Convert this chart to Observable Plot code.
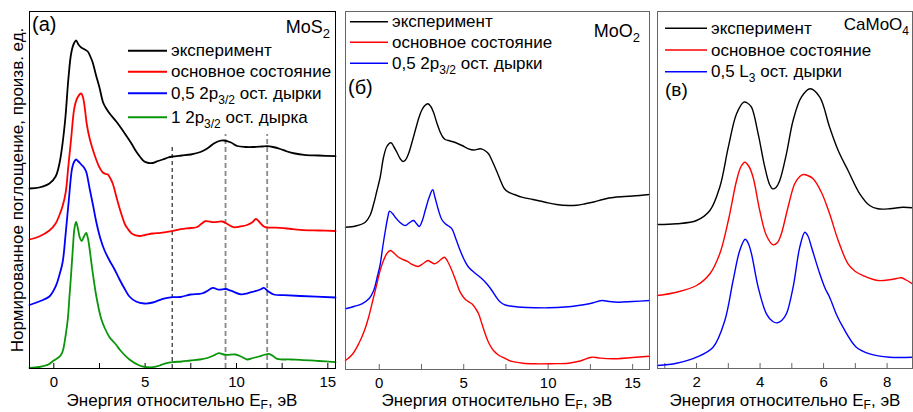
<!DOCTYPE html>
<html><head><meta charset="utf-8">
<script src="https://cdn.jsdelivr.net/npm/d3@7"></script>
<script src="https://cdn.jsdelivr.net/npm/@observablehq/plot@0.6"></script>
<style>
body{margin:0;background:#fff;}
#chart{position:relative;width:913px;height:412px;}
#chart svg{position:absolute;top:0;}
</style></head><body><div id="chart"></div>
<script>
const FONT = '"Liberation Sans", Arial, Helvetica, sans-serif';

// ---------- Panel (a) MoS2 : [energy eV, normalized absorption (arb. units, offset)] ----------
const mos2Experiment = [[-1.33,180],[-0.8,181],[-0.24,185],[0.1,192],[0.31,205],[0.5,228],[0.64,252],[0.8,290],[0.95,315],[1.1,325],[1.22,328],[1.35,324],[1.5,321],[1.7,319],[1.86,317],[2.0,312],[2.13,306],[2.3,294],[2.5,281],[2.7,266],[2.87,260],[3.1,254],[3.42,247],[3.7,240],[3.96,233],[4.25,225],[4.51,217],[4.75,211],[4.96,207],[5.2,205.5],[5.42,205.5],[5.7,207.5],[5.97,209],[6.25,211],[6.5,212],[7.0,213],[7.5,214],[8.03,216.5],[8.4,220],[8.76,225],[9.05,227.5],[9.3,228],[9.7,226],[10.04,222.5],[10.5,221.5],[10.95,221.5],[11.4,222],[11.68,222.3],[12.0,221.5],[12.4,219.5],[12.77,217],[13.2,215],[13.7,213.7],[14.5,213],[15.42,212.3]];
const mos2Ground = [[-1.33,129],[-0.8,132],[-0.24,138],[0.1,145],[0.3,153],[0.49,163],[0.65,176],[0.8,203],[0.95,230],[1.13,261],[1.3,271],[1.5,275],[1.6,271],[1.7,260],[1.8,245],[1.95,231],[2.1,221],[2.32,209],[2.5,201],[2.68,196],[2.85,194.5],[2.96,194],[3.1,190],[3.23,184.7],[3.45,170],[3.69,155],[3.9,144],[4.05,139.7],[4.3,134.5],[4.69,132.5],[5.0,133.5],[5.42,135],[5.84,135.7],[6.48,137.3],[6.94,139.3],[7.5,140.5],[7.85,141.5],[8.1,145],[8.3,147.3],[8.76,146.3],[9.22,147],[9.5,144.5],[9.85,141.3],[10.2,142],[10.58,143.5],[10.85,146],[11.07,149.5],[11.3,145.5],[11.5,142],[11.68,141],[12.4,140.7],[13.0,139.5],[13.5,138.7],[14.5,138],[15.42,137.5]];
const mos2HalfHole = [[-1.33,63.5],[-0.8,67],[-0.24,72],[0.1,82],[0.3,93],[0.49,107],[0.64,133],[0.82,168],[1.0,200],[1.12,207],[1.22,209],[1.35,207],[1.5,204],[1.65,201],[1.77,197],[1.95,181],[2.15,163],[2.32,147],[2.55,130],[2.78,118],[3.05,108],[3.3,100],[3.6,89],[3.9,79],[4.14,72],[4.5,67],[4.96,65],[5.42,66],[5.97,69.7],[6.5,71.3],[6.94,71.5],[7.48,74],[8.1,75],[8.4,77.5],[8.7,80.7],[9.03,78.8],[9.4,79.5],[9.7,77.8],[10.25,74.2],[10.6,75.2],[10.95,77],[11.3,79],[11.5,80.7],[11.75,77],[12.04,74],[12.6,73.3],[13.5,72.5],[15.42,71]];
const mos2FullHole = [[-1.33,0.5],[-0.8,1.5],[-0.3,4],[0,8],[0.25,11],[0.37,13],[0.5,18],[0.64,32],[0.77,50],[0.85,70],[0.95,95],[1.05,122],[1.13,140],[1.22,146.5],[1.32,140],[1.42,131],[1.53,127.5],[1.65,132],[1.77,135.5],[1.87,130],[1.95,121],[2.1,100],[2.32,73],[2.59,50],[2.8,40],[3.05,31.3],[3.4,24],[3.65,18],[4.14,9],[4.69,3],[5.0,1.5],[5.42,1.3],[5.8,3],[6.03,4.7],[6.48,6.3],[7.0,7],[7.48,8],[8.0,9],[8.4,10.5],[8.75,13],[9.03,15.3],[9.3,14],[9.5,13.7],[9.95,14],[10.3,11.5],[10.58,9],[10.9,10.5],[11.22,12],[11.5,13.5],[11.77,14.7],[12.0,12.5],[12.23,9.7],[13.0,9],[13.5,8.7],[14.5,7.5],[15.42,6.3]];
const mos2MarkerLines = [6.48, 9.4, 11.68];

// ---------- Panel (б) MoO2 ----------
const moo2Experiment = [[-2,142.3],[-1.4,143.5],[-0.83,147.3],[-0.55,154],[-0.33,165.7],[-0.15,178],[0.05,192],[0.25,212],[0.45,223],[0.69,226.7],[0.87,222.5],[1.05,217],[1.25,210.5],[1.4,208],[1.55,209.5],[1.73,215.7],[1.95,228],[2.13,239],[2.35,252],[2.52,259.5],[2.7,264],[2.88,265.7],[3.05,263],[3.21,257.3],[3.4,247],[3.61,237.3],[3.78,232],[3.9,230],[4.2,228.5],[4.5,227],[4.9,224],[5.28,220.7],[5.6,219.5],[5.98,220.7],[6.2,219.5],[6.47,215.7],[6.7,208],[6.96,198],[7.2,188],[7.4,181],[7.65,177.3],[8.0,175],[8.44,172.3],[9.1,170],[9.82,167.3],[10.5,165],[11.2,164],[11.7,164.3],[12.19,165.7],[12.7,167.5],[13.18,169.7],[13.6,171.5],[13.96,172.3],[15.0,173.5],[16,175]];
const moo2Ground = [[-2,9],[-1.6,15],[-1.22,25.7],[-0.9,38],[-0.63,52.3],[-0.4,68],[-0.14,85.7],[0.05,99],[0.25,109],[0.45,116],[0.65,119],[0.9,116],[1.14,112.3],[1.4,110],[1.64,108.3],[1.95,105],[2.29,103],[2.6,106],[2.88,109],[3.05,107.5],[3.27,105.7],[3.55,108.5],[3.86,112.3],[4.05,108],[4.3,99],[4.55,88],[4.79,77.3],[5.1,70],[5.48,65.7],[5.7,61],[5.88,55.7],[6.07,46],[6.27,35.7],[6.5,26],[6.76,19],[7.1,14],[7.46,11],[7.8,8.3],[8.5,6.3],[9.23,5.7],[10.2,5.8],[11.2,6.3],[11.9,8.5],[12.58,12.3],[13.0,11.5],[13.77,10.7],[15.0,12],[16,13.3]];
const moo2HalfHole = [[-2,60.7],[-1.5,63],[-1.03,65.7],[-0.6,71],[-0.33,79],[-0.1,94],[0.06,105.7],[0.2,122],[0.36,139],[0.5,152],[0.61,158.3],[0.78,156],[0.95,152.3],[1.2,147.5],[1.54,144],[1.8,147],[2.03,149],[2.2,146],[2.37,143],[2.55,149],[2.72,159],[2.95,172],[3.16,179.7],[3.3,172],[3.51,159],[3.7,150],[3.91,145.7],[4.1,143.5],[4.3,140.7],[4.55,130],[4.79,119],[5.05,109],[5.29,102.3],[5.7,96],[6.08,90.7],[6.4,85],[6.67,79],[6.9,73],[7.16,67.5],[7.46,64.5],[8.0,63],[8.44,62.3],[9.2,61.8],[10.02,61.7],[11.0,62.5],[11.79,64],[12.5,66],[13.18,69],[13.6,68],[14.16,67.3],[15.0,68],[16,69]];

// ---------- Panel (в) CaMoO4 ----------
const camoExperiment = [[0.77,144],[1.37,144.7],[2.0,148],[2.42,158],[2.73,181.3],[3.0,221.3],[3.26,254.7],[3.49,266.3],[3.6,265.5],[3.73,261.3],[3.94,234.7],[4.15,201.3],[4.3,184],[4.39,179.7],[4.5,181],[4.62,188],[4.83,214.7],[5.04,248],[5.3,271.3],[5.58,279.7],[5.88,271.3],[6.19,241.3],[6.46,218],[6.77,198],[7.14,174.7],[7.45,163],[7.71,159.7],[8.08,159.7],[8.5,161.3],[8.8,160.7]];
const camoGround = [[0.77,73],[1.37,76.3],[2.0,83],[2.42,94.7],[2.73,114.7],[3.0,148],[3.26,188],[3.4,202],[3.52,206.3],[3.65,202],[3.78,191.3],[3.99,158],[4.2,133],[4.41,123.7],[4.55,126],[4.67,134.7],[4.88,161.3],[5.09,184.7],[5.25,192],[5.36,194],[5.5,193],[5.67,189.7],[5.93,176.3],[6.19,154.7],[6.46,128],[6.77,104.7],[7.0,97],[7.24,93],[7.71,88],[8.08,88.7],[8.3,90],[8.45,90.7],[8.6,88.5],[8.8,84.7]];
const camoHalfHole = [[0.77,3],[1.37,5.3],[2.0,11.3],[2.52,21.3],[2.89,48],[3.15,88],[3.36,118],[3.53,129.3],[3.63,125],[3.73,114.7],[3.94,81.3],[4.2,54.7],[4.4,47],[4.54,45.7],[4.68,48],[4.83,54.7],[5.04,81.3],[5.25,121.3],[5.41,136.3],[5.5,133],[5.62,121.3],[5.88,94.7],[6.05,80],[6.19,71.3],[6.42,53],[6.61,41.3],[7.03,21.3],[7.45,14.7],[8.08,11.3],[8.8,11.3]];

// ---------- ticks ----------
const ticksAB = [0, 5, 10, 15];
const minorAB = [2.5, 7.5, 12.5];
const ticksC = [2, 4, 6, 8];
const minorC = [1, 3, 5, 7];

const xTitle = ["Энергия относительно E", {sub: "F"}, ", эВ"];
const yTitle = "Нормированное поглощение, произв. ед.";

const chart = document.getElementById("chart");

function addText(svg, x, y, parts, {size = 17, anchor = "start", rotate = null, fill = "black", subShift = null} = {}) {
  const t = d3.select(svg).append("text")
    .attr("x", x).attr("y", y)
    .attr("font-size", size).attr("font-family", FONT)
    .attr("text-anchor", anchor).attr("fill", fill);
  if (rotate !== null) t.attr("transform", `rotate(${rotate} ${x} ${y})`);
  const shift = subShift ?? Math.round(size * 0.3);
  let down = false;
  (Array.isArray(parts) ? parts : [parts]).forEach(p => {
    if (typeof p === "string") {
      const s = t.append("tspan").text(p);
      if (down) { s.attr("dy", -shift); down = false; }
    } else {
      t.append("tspan").attr("font-size", Math.round(size * 0.72)).attr("dy", shift).text(p.sub);
      down = true;
    }
  });
  return t;
}

function panel({left, width, marginLeft, marginRight, marginBottom, xDomain, majors, minors, series, strokeWidth, frameStroke, extraMarks = []}) {
  const innerH = 412 - 11 - marginBottom;
  const svg = Plot.plot({
    width, height: 412,
    marginTop: 11, marginBottom, marginLeft, marginRight,
    style: {fontFamily: FONT, fontSize: "15px", color: "black", background: "transparent", overflow: "visible"},
    x: {domain: xDomain},
    y: {domain: [0, innerH], axis: null},
    marks: [
      Plot.tickX([...majors, ...minors], {x: d => d, stroke: frameStroke, insetTop: innerH - 5}),
      ...extraMarks,
      ...series.map(s => Plot.line(s.values, {x: d => d[0], y: d => d[1], stroke: s.color, strokeWidth, curve: "catmull-rom"})),
      Plot.axisX({ticks: majors, tickSize: 0, tickPadding: 8, fontSize: 15, label: null, tickFormat: d => String(d)}),
      Plot.frame({stroke: frameStroke})
    ]
  });
  svg.style.left = left + "px";
  chart.appendChild(svg);
  return svg;
}

function legend(svg, x1, x2, ys, items, strokeWidth) {
  const g = d3.select(svg).append("g");
  items.forEach((it, i) => {
    g.append("line").attr("x1", x1).attr("x2", x2).attr("y1", ys[i]).attr("y2", ys[i])
      .attr("stroke", it.color).attr("stroke-width", strokeWidth);
    addText(svg, x2 + 4, ys[i] + 5.5, it.label, {size: 17});
  });
}

const labExp = "эксперимент";
const labGround = "основное состояние";
const labHalf = ["0,5 2p", {sub: "3/2"}, " ост. дырки"];
const labFull = ["1 2p", {sub: "3/2"}, " ост. дырка"];
const labHalfL3 = ["0,5 L", {sub: "3"}, " ост. дырки"];

// ----- Panel (a) -----
const svgA = panel({
  left: 0, width: 340, marginLeft: 29, marginRight: 5, marginBottom: 44,
  xDomain: [-1.33, 15.42], majors: ticksAB, minors: minorAB, strokeWidth: 1.8, frameStroke: "black",
  series: [
    {values: mos2Experiment, color: "#000000"},
    {values: mos2Ground, color: "#ff0000"},
    {values: mos2HalfHole, color: "#0000ff"},
    {values: mos2FullHole, color: "#0a960a"}
  ],
  extraMarks: [
    Plot.ruleX([mos2MarkerLines[0]], {x: d => d, y1: 0, y2: 221, stroke: "black", strokeWidth: 1, strokeDasharray: "4,3"}),
    Plot.ruleX(mos2MarkerLines.slice(1), {x: d => d, y1: 0, y2: 234, stroke: "#888", strokeWidth: 1.8, strokeDasharray: "5,3"})
  ]
});
legend(svgA, 128, 167, [50.7, 71.7, 93.3, 117.3], [
  {label: labExp, color: "#000"}, {label: labGround, color: "#ff0000"},
  {label: labHalf, color: "#0000ff"}, {label: labFull, color: "#0a960a"}], 2);
addText(svgA, 32, 31, "(a)", {size: 20});
addText(svgA, 330, 33, ["MoS", {sub: "2"}], {size: 18, anchor: "end"});
addText(svgA, 182, 406, xTitle, {size: 17, anchor: "middle", subShift: 3});
addText(svgA, 23, 190, yTitle, {size: 17, anchor: "middle", rotate: -90});

// ----- Panel (б) -----
const svgB = panel({
  left: 340, width: 312, marginLeft: 5, marginRight: 3, marginBottom: 43,
  xDomain: [-2, 16], majors: ticksAB, minors: minorAB, strokeWidth: 1.4, frameStroke: "#666",
  series: [
    {values: moo2Experiment, color: "#000000"},
    {values: moo2Ground, color: "#ff0000"},
    {values: moo2HalfHole, color: "#0000ff"}
  ]
});
legend(svgB, 10, 48, [21.7, 42.3, 63.3], [
  {label: labExp, color: "#000"}, {label: labGround, color: "#ff0000"},
  {label: labHalf, color: "#0000ff"}], 1.5);
addText(svgB, 8, 94, "(б)", {size: 20});
addText(svgB, 300, 37, ["MoO", {sub: "2"}], {size: 18, anchor: "end"});
addText(svgB, 157, 406, xTitle, {size: 17, anchor: "middle", subShift: 3});

// ----- Panel (в) -----
const svgC = panel({
  left: 652, width: 261, marginLeft: 5, marginRight: 1, marginBottom: 44,
  xDomain: [0.77, 8.8], majors: ticksC, minors: minorC, strokeWidth: 1.4, frameStroke: "#666",
  series: [
    {values: camoExperiment, color: "#000000"},
    {values: camoGround, color: "#ff0000"},
    {values: camoHalfHole, color: "#0000ff"}
  ]
});
legend(svgC, 13, 55, [28.3, 50, 71.7], [
  {label: labExp, color: "#000"}, {label: labGround, color: "#ff0000"},
  {label: labHalfL3, color: "#0000ff"}], 1.5);
addText(svgC, 13, 96, "(в)", {size: 19});
addText(svgC, 257, 30, ["CaMoO", {sub: "4"}], {size: 17, anchor: "end"});
addText(svgC, 133, 406, xTitle, {size: 17, anchor: "middle", subShift: 3});
</script></body></html>
